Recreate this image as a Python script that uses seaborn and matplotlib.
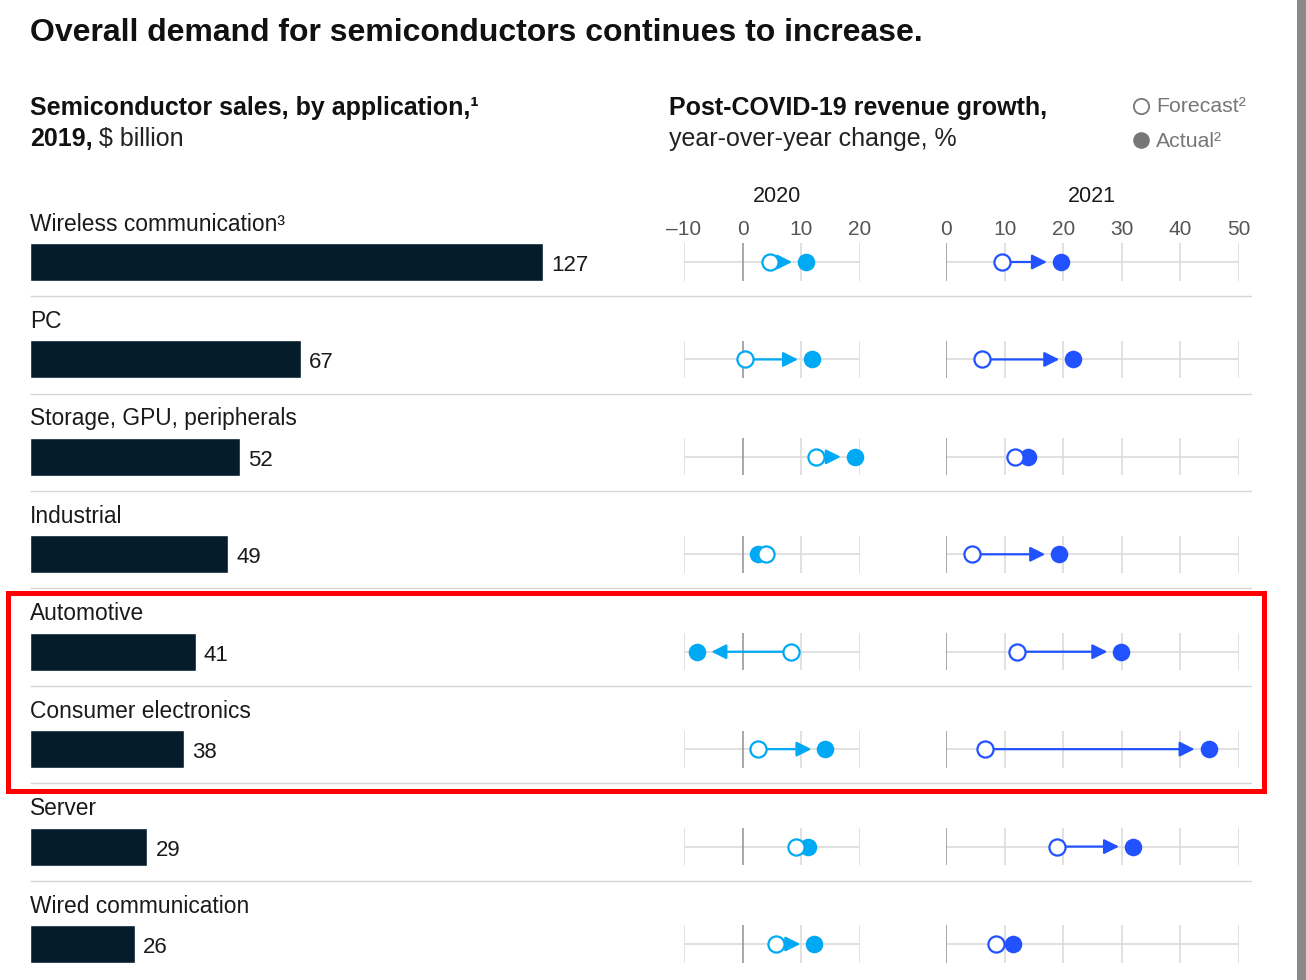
import matplotlib
matplotlib.use("Agg")
import matplotlib.pyplot as plt
from matplotlib.patches import Rectangle
from matplotlib.lines import Line2D
import seaborn as sns
import pandas as pd

categories = ["Wireless communication³", "PC", "Storage, GPU, peripherals", "Industrial",
              "Automotive", "Consumer electronics", "Server", "Wired communication"]
sales_2019 = [127, 67, 52, 49, 41, 38, 29, 26]
forecast_2020 = [4.7, 0.4, 12.5, 3.9, 8.2, 2.6, 9.1, 5.6]
actual_2020 = [10.8, 11.8, 19.1, 2.6, -7.7, 14.1, 11.1, 12.2]
forecast_2021 = [9.6, 6.1, 11.8, 4.5, 12.1, 6.6, 18.9, 8.5]
actual_2021 = [19.6, 21.7, 14.0, 19.3, 29.9, 44.8, 31.9, 11.4]
ticks_2020 = [-10, 0, 10, 20]
ticks_2021 = [0, 10, 20, 30, 40, 50]
tick_labels_2020 = ["\u201310", "0", "10", "20"]
tick_labels_2021 = ["0", "10", "20", "30", "40", "50"]

sns.set_theme(style="white")
plt.rcParams["font.family"] = ["Liberation Sans", "DejaVu Sans"]

W, H = 1306, 980
fig = plt.figure(figsize=(W / 100, H / 100), dpi=100)

DARK = "#051C2C"
C2020 = "#00A9F4"
C2021 = "#2251FF"
GRID = "#dcdcdc"
TXT = "#1a1a1a"

row0, pitch = 262, 97.43
n = len(categories)
ybot = (H - row0) / pitch


def ax_rect(x0, x1, ytop_px):
    return [x0 / W, 0, (x1 - x0) / W, (H - ytop_px) / H]


# ---- bars ----
ax_bar = fig.add_axes(ax_rect(30, 1252, 165))
df = pd.DataFrame({"category": categories, "sales": sales_2019})
sns.barplot(data=df, x="sales", y="category", orient="h", color=DARK, saturation=1,
            width=0.39, ax=ax_bar)
ax_bar.set_xlim(0, 1222 / 4.04)
ax_bar.set_ylim(ybot, (165 - row0) / pitch)
labels = ax_bar.bar_label(ax_bar.containers[0], padding=6, fontsize=16, color=TXT)
for t in labels:
    t.set_va("center")
    t.xyann = (6, -2.5)
for i, cat in enumerate(categories):
    ax_bar.text(0, i - 0.39, cat, va="center", ha="left", fontsize=16.4, color=TXT)
ax_bar.hlines([i + 0.35 for i in range(n - 1)], 0, 1222 / 4.04, color="#d6d6d6", lw=1)
ax_bar.axis("off")

# ---- dot axes ----
def dot_axes(x0, x1, lims, ticks, labels, fc, ac, year, color, year_x):
    ax = fig.add_axes(ax_rect(x0, x1, 240))
    ax.patch.set_alpha(0)
    for i in range(n):
        ax.hlines(i, lims[0], lims[1], color=GRID, lw=1.2, zorder=1)
        for t in ticks:
            ax.vlines(t, i - 0.19, i + 0.19, color="#9a9a9a" if t == 0 else GRID,
                      lw=1.2, zorder=1)
        if abs(ac[i] - fc[i]) > 4:
            ax.annotate("", xy=(ac[i], i), xytext=(fc[i], i),
                        arrowprops=dict(arrowstyle="-|>,head_length=0.5,head_width=0.25",
                                        color=color, lw=1.6, mutation_scale=18,
                                        shrinkA=6, shrinkB=10), zorder=2)
    rows = list(range(n))
    sns.scatterplot(x=ac, y=rows, color=color, s=160, linewidth=0, ax=ax, zorder=3,
                    clip_on=False)
    sns.scatterplot(x=fc, y=rows, color="white", edgecolor=color, s=135, linewidth=1.6,
                    ax=ax, zorder=4, clip_on=False)
    ax.set_xlim(*lims)
    ax.set_ylim(ybot, (240 - row0) / pitch)
    ax.set_xticks(ticks)
    ax.set_xticklabels(labels)
    ax.xaxis.tick_top()
    ax.tick_params(axis="x", length=0, pad=1, labelsize=15, labelcolor="#555555")
    ax.set_yticks([])
    ax.set_xlabel("")
    ax.set_ylabel("")
    for s in ax.spines.values():
        s.set_visible(False)
    ax.text((year_x - x0) / (x1 - x0), 1 + 44 / (H - 240), year, transform=ax.transAxes,
            ha="center", va="center", fontsize=15.5, color=TXT)
    return ax


dot_axes(684, 860, (-10, 20), ticks_2020, tick_labels_2020, forecast_2020, actual_2020,
         "2020", C2020, 777)
dot_axes(946, 1239, (0, 50), ticks_2021, tick_labels_2021, forecast_2021, actual_2021,
         "2021", C2021, 1092)

# ---- header text ----
def fy(px):
    return 1 - px / H


fig.text(30 / W, fy(33), "Overall demand for semiconductors continues to increase.",
         fontsize=23, fontweight="bold", color="#111111", va="center")
fig.text(30 / W, fy(108), "Semiconductor sales, by application,¹", fontsize=18,
         fontweight="bold", color="#111111", va="center")
t1 = fig.text(30 / W, fy(139), "2019,", fontsize=18, fontweight="bold", color="#111111",
              va="center")
fig.canvas.draw()
bb = t1.get_window_extent()
fig.text((bb.x1 + 6) / W, fy(139), "$ billion", fontsize=18, color="#222222", va="center")
fig.text(669 / W, fy(108), "Post-COVID-19 revenue growth,", fontsize=18,
         fontweight="bold", color="#111111", va="center")
fig.text(669 / W, fy(139), "year-over-year change, %", fontsize=18, color="#222222",
         va="center")

# legend
fig.add_artist(Line2D([1141 / W], [fy(106)], marker="o", markersize=11,
                      markerfacecolor="white", markeredgecolor="#777777",
                      markeredgewidth=1.3, transform=fig.transFigure))
fig.add_artist(Line2D([1141 / W], [fy(140)], marker="o", markersize=12,
                      markerfacecolor="#777777", markeredgewidth=0,
                      transform=fig.transFigure))
fig.text(1156 / W, fy(107), "Forecast²", fontsize=15.3, color="#777777", va="center")
fig.text(1156 / W, fy(141), "Actual²", fontsize=15.3, color="#777777", va="center")

# highlight box and right strip
fig.add_artist(Rectangle((8 / W, fy(791)), (1264 - 8) / W, (791 - 593) / H,
                         transform=fig.transFigure, fill=False, ec="#ff0000", lw=3.6))
fig.add_artist(Rectangle((1297 / W, 0), 9 / W, 1, transform=fig.transFigure,
                         fc="#8a8a8a", ec="none"))

fig.savefig("out.png", dpi=100)
